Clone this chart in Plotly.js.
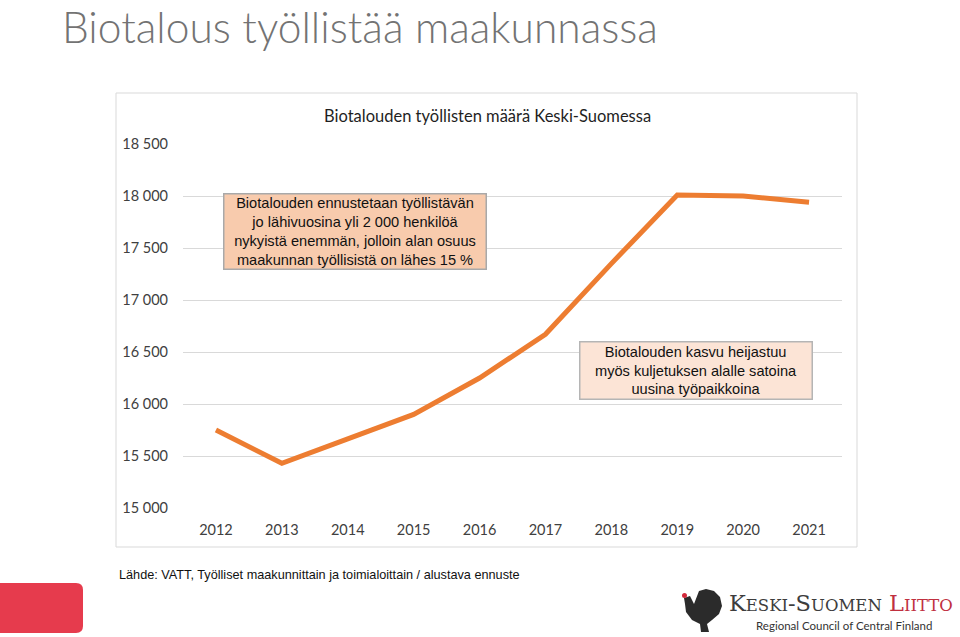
<!DOCTYPE html>
<html>
<head>
<meta charset="utf-8">
<script src="https://cdn.plot.ly/plotly-3.0.1.min.js"></script>
<style>
html,body{margin:0;padding:0;background:#fff;}
#chart{width:960px;height:637px;}
</style>
</head>
<body>
<div id="chart"></div>
<script>
// ---- data ----
const years = ["2012","2013","2014","2015","2016","2017","2018","2019","2020","2021"];
const employed = [15750, 15430, 15665, 15900, 16250, 16670, 17350, 18010, 18000, 17940];
const yTickVals = [15000, 15500, 16000, 16500, 17000, 17500, 18000, 18500];
const yTickText = ["15 000","15 500","16 000","16 500","17 000","17 500","18 000","18 500"];

const pageTitle = "Biotalous työllistää maakunnassa";
const chartTitle = "Biotalouden työllisten määrä Keski-Suomessa";
const note1 = "Biotalouden ennustetaan työllistävän<br>jo lähivuosina yli 2 000 henkilöä<br>nykyistä enemmän, jolloin alan osuus<br>maakunnan työllisistä on lähes 15 %";
const note2 = "Biotalouden kasvu heijastuu<br>myös kuljetuksen alalle satoina<br>uusina työpaikkoina";
const sourceText = "Lähde: VATT, Työlliset maakunnittain ja toimialoittain / alustava ennuste";

// ---- layout geometry (pixels) ----
const W = 960, H = 637;
const L = 183, R = 842, T = 144, B = 508;
const PW = R - L, PH = B - T;
const px = x => (x - L) / PW;
const py = y => (B - y) / PH;

const calibri = "Lato, Carlito, 'Open Sans', sans-serif";
const arial = "'Liberation Sans', Arial, sans-serif";

const trace = {
  x: years, y: employed, type: 'scatter', mode: 'lines',
  line: {color: '#ed7d31', width: 5},
  hoverinfo: 'skip'
};

const layout = {
  width: W, height: H,
  margin: {l: L, r: W - R, t: T, b: H - B, pad: 0},
  paper_bgcolor: '#ffffff', plot_bgcolor: '#ffffff',
  showlegend: false,
  xaxis: {
    type: 'category', range: [-0.5, 9.5],
    showgrid: false, zeroline: false, showline: false,
    ticks: '', ticklabelstandoff: 11,
    tickfont: {family: calibri, size: 14.5, color: '#404040'},
    fixedrange: true
  },
  yaxis: {
    range: [15000, 18500],
    tickvals: yTickVals, ticktext: yTickText,
    showgrid: true, gridcolor: '#d9d9d9', gridwidth: 1,
    zeroline: false, showline: false, ticks: '', ticklabelstandoff: 14,
    tickfont: {family: calibri, size: 14.5, color: '#404040'},
    fixedrange: true
  },
  shapes: [
    // chart area border
    {type: 'rect', xref: 'paper', yref: 'paper', layer: 'below',
     x0: px(116), x1: px(857), y0: py(547), y1: py(93),
     line: {color: '#d9d9d9', width: 1}, fillcolor: 'rgba(0,0,0,0)'},
    // red block bottom-left
    {type: 'path', xref: 'paper', yref: 'paper',
     path: `M ${px(-2)},${py(583)} L ${px(76)},${py(583)} Q ${px(83)},${py(583)} ${px(83)},${py(590)} L ${px(83)},${py(626)} Q ${px(83)},${py(633)} ${px(76)},${py(633)} L ${px(-2)},${py(633)} Z`,
     fillcolor: '#e63b4d', line: {width: 0}},
    // bird silhouette (rough)
    {type: 'path', xref: 'paper', yref: 'paper',
     path: `M ${px(684)},${py(598)} L ${px(690)},${py(596)} L ${px(694)},${py(604)} L ${px(699)},${py(591)} L ${px(706)},${py(589)} L ${px(714)},${py(591)} L ${px(720)},${py(597)} L ${px(722)},${py(606)} L ${px(719)},${py(614)} L ${px(712)},${py(620)} L ${px(707)},${py(624)} L ${px(709)},${py(632)} L ${px(701)},${py(632)} L ${px(700)},${py(624)} L ${px(692)},${py(620)} L ${px(686)},${py(612)} L ${px(685)},${py(604)} Z`,
     fillcolor: '#2b2b2b', line: {width: 0}},
    {type: 'circle', xref: 'paper', yref: 'paper',
     x0: px(682), x1: px(687), y0: py(598), y1: py(593),
     fillcolor: '#d2283a', line: {width: 0}}
  ],
  annotations: [
    {text: pageTitle, xref: 'paper', yref: 'paper', x: px(61), y: py(0),
     xanchor: 'left', yanchor: 'top', showarrow: false, borderpad: 0,
     font: {family: calibri, size: 42.5, color: '#737373', weight: 300}},
    {text: chartTitle, xref: 'paper', yref: 'paper', x: px(487), y: py(116),
     xanchor: 'center', yanchor: 'middle', showarrow: false,
     font: {family: calibri, size: 16.5, color: '#1f1f1f'}},
    {text: note1, xref: 'paper', yref: 'paper', x: px(354.5), y: py(231),
     xanchor: 'center', yanchor: 'middle', showarrow: false,
     width: 261, height: 74, borderpad: 0, align: 'center',
     bgcolor: '#f8cbad', bordercolor: '#a9a9a9', borderwidth: 1.5,
     font: {family: arial, size: 14.6, color: '#111111'}},
    {text: note2, xref: 'paper', yref: 'paper', x: px(696), y: py(370.5),
     xanchor: 'center', yanchor: 'middle', showarrow: false,
     width: 231, height: 56, borderpad: 0, align: 'center',
     bgcolor: '#fce4d6', bordercolor: '#b5b5b5', borderwidth: 1.5,
     font: {family: arial, size: 14.6, color: '#111111'}},
    {text: sourceText, xref: 'paper', yref: 'paper', x: px(117), y: py(575),
     xanchor: 'left', yanchor: 'middle', showarrow: false,
     font: {family: "'Liberation Sans Narrow', 'Arial Narrow', 'Liberation Sans', sans-serif", size: 12.7, color: '#111111'}},
    {text: 'K<span style="font-size:16.5px">ESKI</span>-S<span style="font-size:16.5px">UOMEN</span> <span style="color:#c0303f">L<span style="font-size:16.5px">IITTO</span></span>',
     xref: 'paper', yref: 'paper', x: px(727), y: py(603),
     xanchor: 'left', yanchor: 'middle', showarrow: false,
     font: {family: "'DejaVu Serif', 'Liberation Serif', serif", size: 22.5, color: '#3d3d3d'}},
    {text: 'Regional Council of Central Finland', xref: 'paper', yref: 'paper',
     x: px(754), y: py(625), xanchor: 'left', yanchor: 'middle', showarrow: false,
     font: {family: calibri, size: 11.5, color: '#333333'}}
  ]
};

Plotly.newPlot('chart', [trace], layout, {displayModeBar: false, staticPlot: true});
</script>
</body>
</html>
